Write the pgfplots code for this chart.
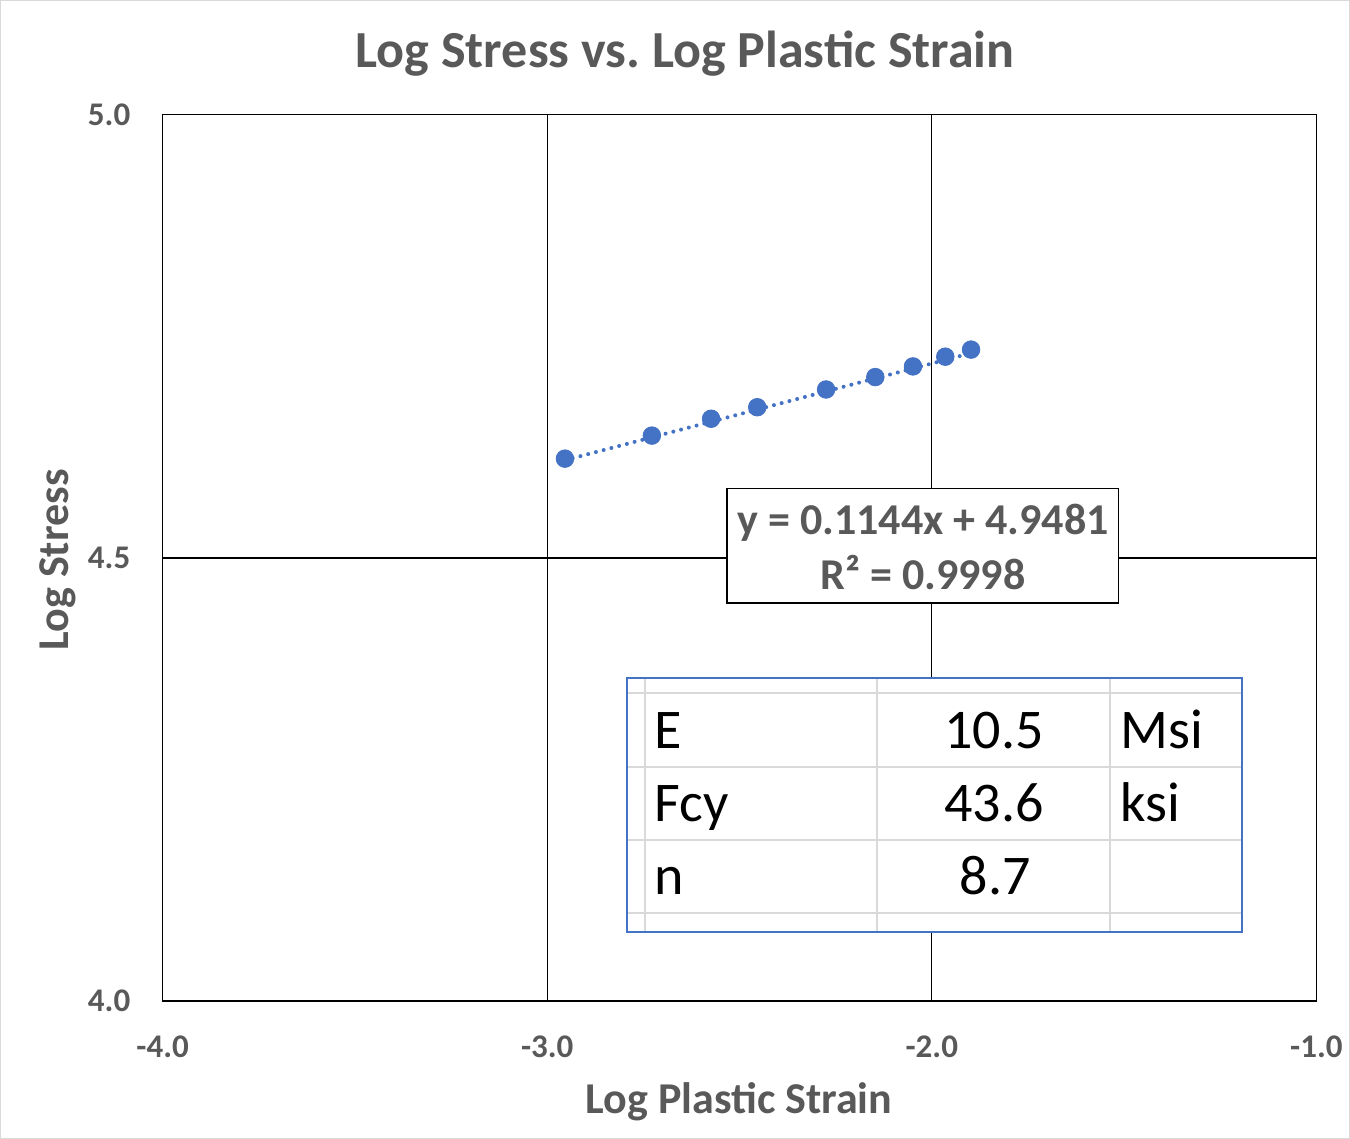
\documentclass[border=0pt]{standalone}
\usepackage{pgfplots}
\pgfplotsset{compat=1.18}
\usepackage{fontspec}
\setmainfont{Carlito}
\frenchspacing
\definecolor{txtgray}{HTML}{595959}
\definecolor{xlblue}{HTML}{4472C4}
\definecolor{gridgray}{HTML}{D9D9D9}
\definecolor{bordergray}{HTML}{D9D9D9}
\begin{document}
\begin{tikzpicture}
\begin{scope}[x=0.5pt,y=-0.5pt]
\path[draw=bordergray, line width=0.6pt, fill=white] (1,1) rectangle (1349,1138);
\end{scope}
\begin{axis}[
  at={(81.5pt,-500.5pt)}, anchor=south west,
  width=576.5pt, height=443pt, scale only axis,
  xmin=-4, xmax=-1, ymin=4, ymax=5,
  xtick={-4,-3,-2,-1}, xticklabels={-4.0,-3.0,-2.0,-1.0},
  ytick={4,4.5,5}, yticklabels={4.0,4.5,5.0},
  major tick length=0pt,
  grid=major, major grid style={black, line width=0.65pt},
  axis line style={black, line width=0.75pt},
  tick label style={font=\fontsize{16.5}{20}\selectfont\bfseries, text=txtgray, inner sep=0pt},
  xticklabel style={anchor=center, yshift=-23pt},
  yticklabel style={anchor=east, xshift=-16pt},
  clip=false,
]
\addplot[xlblue, line width=2pt, line cap=round, dash pattern=on 0pt off 4pt]
  coordinates {(-2.954,4.6102) (-1.898,4.7310)};
\addplot[only marks, mark=*, mark size=4.4pt, mark options={fill=xlblue, draw=xlblue}]
  coordinates {
  (-2.954,4.612) (-2.728,4.638) (-2.574,4.657) (-2.454,4.670) (-2.275,4.690)
  (-2.147,4.704) (-2.049,4.716) (-1.965,4.727) (-1.898,4.735)
  };
\end{axis}
\begin{scope}[x=0.5pt,y=-0.5pt]
% title and axis labels
\node[font=\fontsize{26}{31}\selectfont\bfseries, text=txtgray] at (685,54) {Log Stress vs. Log Plastic Strain};
\node[font=\fontsize{22}{26}\selectfont\bfseries, text=txtgray] at (739,1101) {Log Plastic Strain};
\node[font=\fontsize{22}{26}\selectfont\bfseries, text=txtgray, rotate=90] at (58,560) {Log Stress};
% trendline label
\draw[black, line width=0.6pt, fill=white] (727,489) rectangle (1118,603);
\node[font=\fontsize{22}{26}\selectfont\bfseries, text=txtgray, anchor=base] at (923,535) {y = 0.1144x + 4.9481};
\node[font=\fontsize{22}{26}\selectfont\bfseries, text=txtgray, anchor=base] at (923,590) {R² = 0.9998};
% inserted table
\fill[white] (627,678) rectangle (1242,932);
\foreach \xx in {645,877,1110} \draw[gridgray, line width=1pt] (\xx,678) -- (\xx,932);
\foreach \yy in {693,767,840,913} \draw[gridgray, line width=1pt] (627,\yy) -- (1242,\yy);
\draw[xlblue, line width=0.9pt] (627,678) rectangle (1242,932);
\begin{scope}[every node/.style={font=\fontsize{28}{33}\selectfont, text=black, inner sep=0pt}]
\node[anchor=base west] at (654,748) {E};
\node[anchor=base west] at (654,821) {Fcy};
\node[anchor=base west] at (654,894) {n};
\node[anchor=base east] at (1044,748) {10.5};
\node[anchor=base east] at (1044,821) {43.6};
\node[anchor=base] at (995,894) {8.7};
\node[anchor=base west] at (1120,748) {Msi};
\node[anchor=base west] at (1120,821) {ksi};
\end{scope}
\end{scope}
\end{tikzpicture}
\end{document}
